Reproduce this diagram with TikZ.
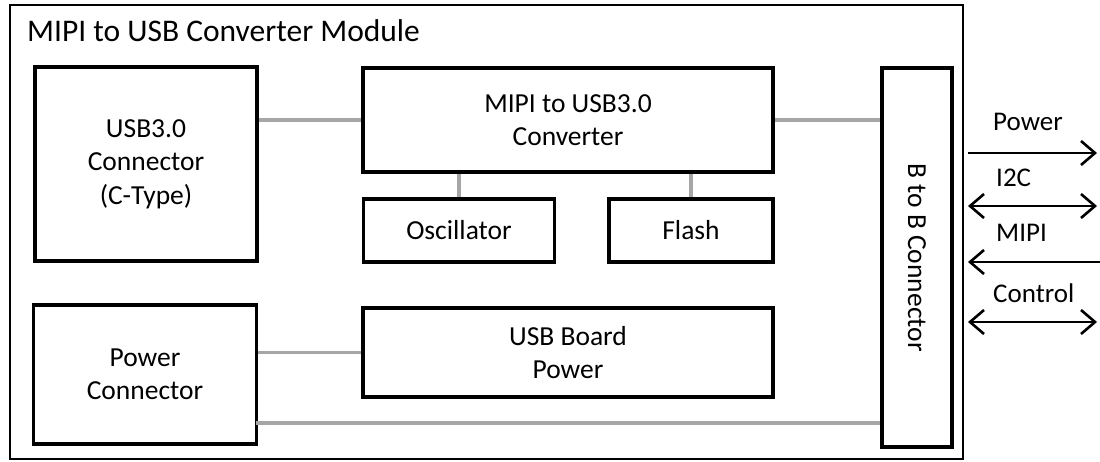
\documentclass[tikz,border=0pt]{standalone}
\usepackage{fontspec}
\setmainfont{Carlito}
\usepackage{graphicx}
\usetikzlibrary{arrows.meta}
\definecolor{linkgray}{RGB}{166,166,166}
\tikzset{
  blk/.style={draw, line width=3.2pt, align=center, inner sep=0pt,
    font=\fontsize{27.5}{33.5}\selectfont},
  link/.style={draw=linkgray, line width=3.5pt},
  sig/.style={line width=2.6pt, shorten <=4pt, shorten >=1pt},
  lbl/.style={anchor=west, inner sep=0pt, font=\fontsize{27}{33}\selectfont},
  barb/.tip={Straight Barb[length=14pt,width=24pt]},
}
\begin{document}
\begin{tikzpicture}[x=1pt,y=-1pt]
  \useasboundingbox (0,0) rectangle (1100,461);
  \node[draw, line width=2pt, inner sep=0pt, minimum width=953pt, minimum height=454pt] (module) at (486.5,232) {};
  \node[anchor=west, inner sep=0pt, font=\fontsize{31.5}{38}\selectfont] (title) at (27,31) {MIPI to USB Converter Module};

  \node[blk, minimum width=222pt, minimum height=194pt] (usb)    at (146,164)   {USB3.0\\Connector\\(C-Type)};
  \node[blk, minimum width=410pt, minimum height=104pt] (conv)   at (568,120)   {MIPI to USB3.0\\Converter};
  \node[blk, minimum width=191pt, minimum height=63pt]  (osc)    at (459,230.5) {Oscillator};
  \node[blk, minimum width=164pt, minimum height=63pt]  (flash)  at (691,230.5) {Flash};
  \node[blk, minimum width=223pt, minimum height=139pt] (pwr)    at (145,374.5) {Power\\Connector};
  \node[blk, minimum width=410pt, minimum height=89pt]  (usbpwr) at (568,352.5) {USB Board\\Power};
  \node[blk, minimum width=70pt, minimum height=379pt]  (btob)   at (917,257.5) {\rotatebox{-90}{B to B Connector}};

  % grey links inside the module
  \coordinate (rail) at (256,423);
  \draw[link] (usb.east |- conv.west) -- (conv.west);
  \draw[link] (conv.east) -- (conv.east -| btob.west);
  \draw[link] (osc.north |- conv.south) -- (osc.north);
  \draw[link] (flash.north |- conv.south) -- (flash.north);
  \draw[link] (pwr.east |- usbpwr.west) -- (usbpwr.west);
  \draw[link] (rail) -- (rail -| btob.west);

  % signals leaving the module
  \coordinate (powend) at (1098,153);
  \coordinate (i2cend) at (1098,206);
  \coordinate (mipiend) at (1100,262);
  \coordinate (ctrlend) at (1098,322);
  \draw[sig, -barb] (powend -| module.east) -- (powend);
  \draw[sig, barb-barb] (i2cend -| module.east) -- (i2cend);
  \draw[sig, barb-, shorten >=0pt] (mipiend -| module.east) -- (mipiend);
  \draw[sig, barb-barb] (ctrlend -| module.east) -- (ctrlend);

  \node[lbl] (powlbl)  at (993,122) {Power};
  \node[lbl] (i2clbl)  at (996,178) {I2C};
  \node[lbl] (mipilbl) at (996,233) {MIPI};
  \node[lbl] (ctrllbl) at (993,293) {Control};
\end{tikzpicture}
\end{document}
